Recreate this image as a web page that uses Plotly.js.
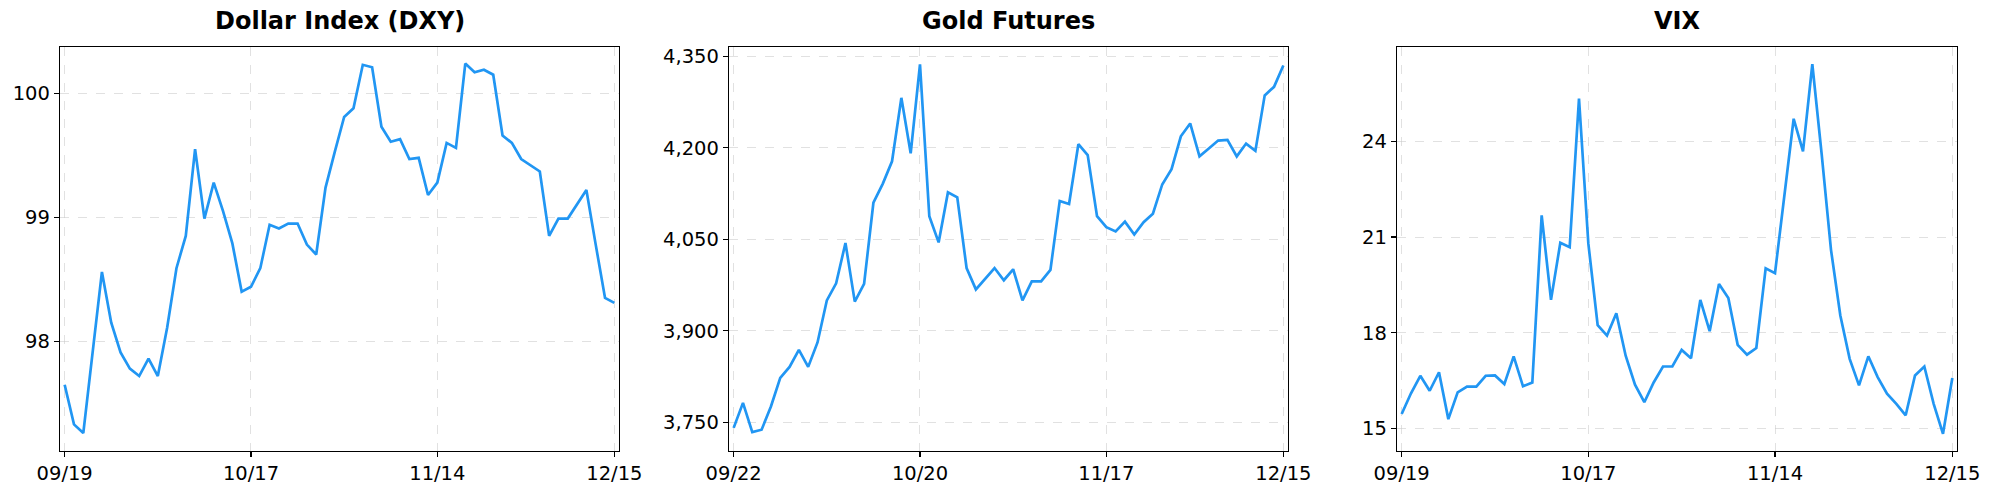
<!DOCTYPE html>
<html>
<head>
<meta charset="utf-8">
<script src="https://cdn.plot.ly/plotly-3.0.1.min.js"></script>
<style>html,body{margin:0;padding:0;background:#fff;}#chart{width:1989px;height:490px;}</style>
</head>
<body>
<div id="chart"></div>
<script>
// Titles
const titles = ["Dollar Index (DXY)", "Gold Futures", "VIX"];

// X tick labels (trading-day index axis: first, +20, +40, last)
const dxyTickLabels = ["09/19", "10/17", "11/14", "12/15"];
const goldTickLabels = ["09/22", "10/20", "11/17", "12/15"];
const vixTickLabels = ["09/19", "10/17", "11/14", "12/15"];

// Series values (60 trading days each)
const dxyValues = [
  97.65, 97.33, 97.26, 97.90, 98.56, 98.15, 97.91, 97.78, 97.72, 97.86,
  97.72, 98.11, 98.59, 98.85, 99.55, 98.99, 99.28, 99.05, 98.79, 98.40,
  98.44, 98.59, 98.94, 98.91, 98.95, 98.95, 98.78, 98.70, 99.24, 99.53,
  99.81, 99.88, 100.23, 100.21, 99.73, 99.61, 99.63, 99.47, 99.48, 99.18,
  99.28, 99.60, 99.56, 100.24, 100.17, 100.19, 100.15, 99.66, 99.60, 99.47,
  99.42, 99.37, 98.85, 98.99, 98.99, 99.11, 99.22, 98.78, 98.35, 98.31
];
const goldValues = [
  3741, 3782, 3734, 3738, 3776, 3823, 3841, 3869, 3841, 3881,
  3950, 3978, 4044, 3948, 3977, 4110, 4141, 4178, 4282, 4191,
  4337, 4088, 4045, 4127, 4119, 4003, 3968, 3985, 4003, 3983,
  4001, 3950, 3981, 3981, 4000, 4113, 4108, 4206, 4188, 4088,
  4070, 4063, 4079, 4058, 4078, 4092, 4140, 4165, 4219, 4240,
  4186, 4199, 4212, 4213, 4186, 4207, 4195, 4286, 4300, 4335
];
const vixValues = [
  15.45, 16.10, 16.65, 16.18, 16.76, 15.29, 16.13, 16.31, 16.31, 16.65,
  16.66, 16.39, 17.26, 16.32, 16.44, 21.68, 19.03, 20.82, 20.68, 25.34,
  20.80, 18.24, 17.91, 18.61, 17.28, 16.37, 15.82, 16.44, 16.94, 16.94,
  17.46, 17.20, 19.03, 18.05, 19.53, 19.09, 17.62, 17.31, 17.52, 20.02,
  19.87, 22.30, 24.71, 23.69, 26.42, 23.60, 20.60, 18.54, 17.18, 16.35,
  17.26, 16.61, 16.09, 15.77, 15.41, 16.66, 16.94, 15.77, 14.83, 16.58
];

const series = [
  {vals: dxyValues, ticks: dxyTickLabels, yfmt: "", dtick: 1, yRange: [97.118, 100.376]},
  {vals: goldValues, ticks: goldTickLabels, yfmt: ",", dtick: 150, yRange: [3703.6, 4365.8]},
  {vals: vixValues, ticks: vixTickLabels, yfmt: "", dtick: 3, yRange: [14.30, 26.97]}
];

const W = 1989, H = 490;
const domainsPx = [[60, 619], [729, 1288], [1397, 1957]];
const yTopPx = 46.7, yBotPx = 450.7;
const yDomain = [(H - yBotPx) / H, (H - yTopPx) / H];

const lineColor = "#2196F3";
const gridColor = "rgba(200,200,200,0.55)";
const fontFam = "DejaVu Sans, Liberation Sans, sans-serif";

const traces = [];
const layout = {
  width: W, height: H,
  margin: {l: 0, r: 0, t: 0, b: 0},
  paper_bgcolor: "#ffffff",
  plot_bgcolor: "#ffffff",
  showlegend: false,
  font: {family: fontFam, color: "#000", size: 19.5},
  annotations: []
};

series.forEach((s, k) => {
  const n = s.vals.length;
  const xs = s.vals.map((_, i) => i);
  const sfx = k === 0 ? "" : String(k + 1);
  traces.push({
    type: "scatter", mode: "lines",
    x: xs, y: s.vals,
    xaxis: "x" + sfx, yaxis: "y" + sfx,
    line: {color: lineColor, width: 2.7},
    hoverinfo: "skip"
  });
  const common = {
    showline: true, mirror: true, linecolor: "#000", linewidth: 1.2,
    ticks: "outside", ticklen: 5, tickwidth: 1.2, tickcolor: "#000",
    showgrid: true, gridcolor: gridColor, gridwidth: 1, griddash: "dash",
    zeroline: false,
    tickfont: {family: fontFam, size: 19.5, color: "#000"}
  };
  layout["xaxis" + sfx] = Object.assign({}, common, {
    domain: [domainsPx[k][0] / W, domainsPx[k][1] / W],
    anchor: "y" + sfx,
    range: [-0.5, n - 0.5],
    tickmode: "array",
    tickvals: [0, 20, 40, n - 1],
    ticktext: s.ticks
  });
  layout["yaxis" + sfx] = Object.assign({}, common, {
    domain: yDomain,
    anchor: "x" + sfx,
    range: s.yRange,
    dtick: s.dtick, tick0: 0,
    tickformat: s.yfmt,
    separatethousands: true
  });
  layout.annotations.push({
    xref: "paper", yref: "paper",
    x: (domainsPx[k][0] + domainsPx[k][1]) / 2 / W,
    y: (H - 21) / H,
    xanchor: "center", yanchor: "middle",
    showarrow: false,
    text: "<b>" + titles[k] + "</b>",
    font: {family: fontFam, size: 24, color: "#000"}
  });
});

Plotly.newPlot("chart", traces, layout, {staticPlot: true, displayModeBar: false});
</script>
</body>
</html>
